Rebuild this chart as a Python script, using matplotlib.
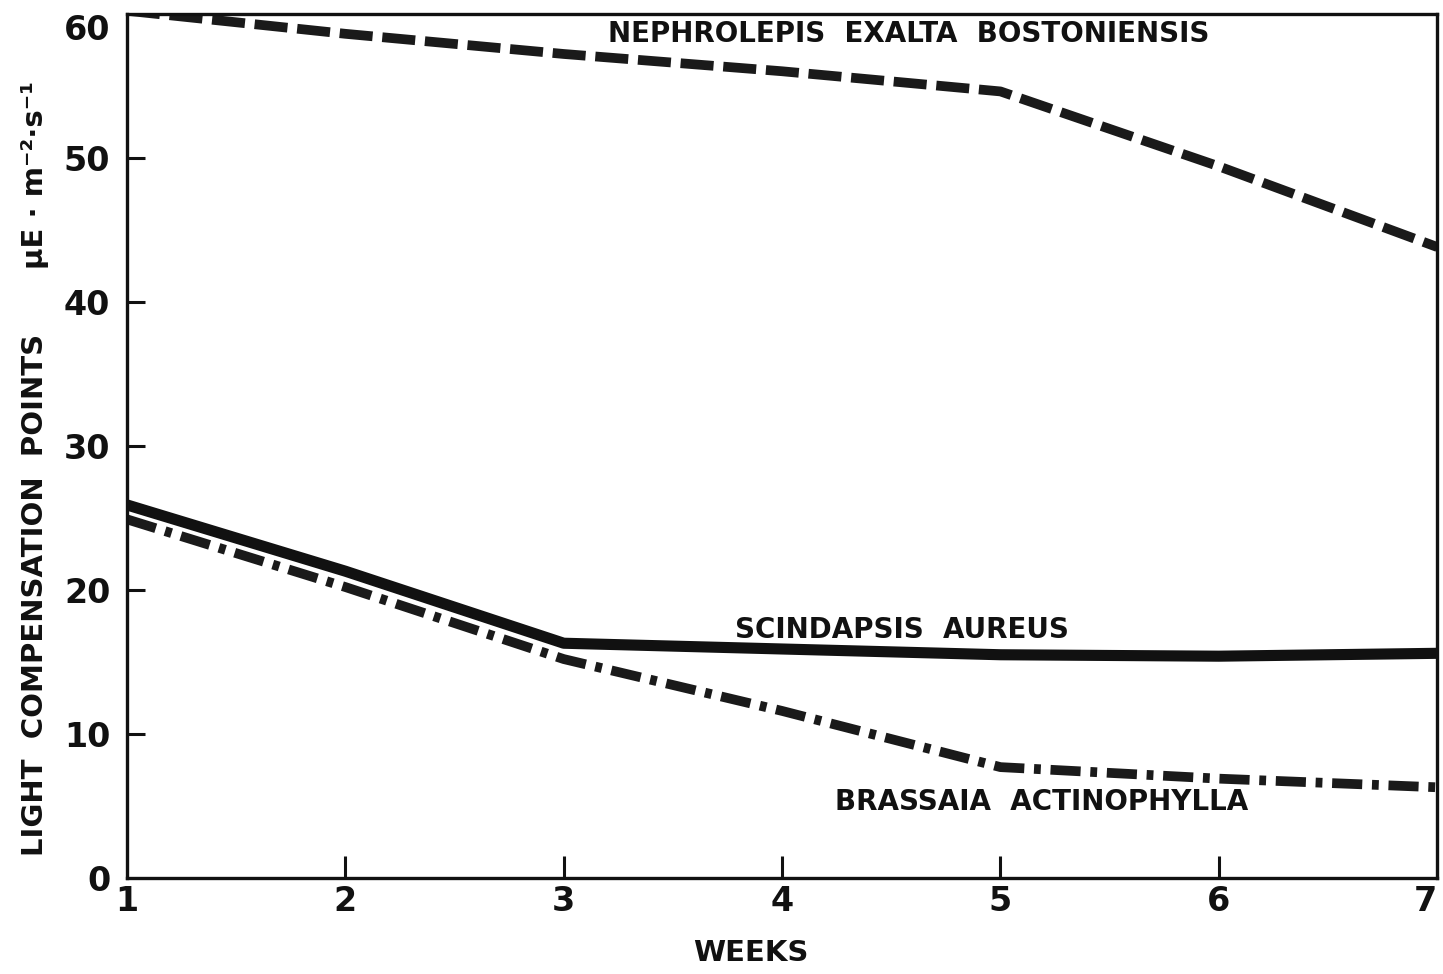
import matplotlib.pyplot as plt

weeks = [1, 2, 3, 4, 5, 6, 7]
nephrolepis = [60.2, 58.6, 57.2, 56.0, 54.6, 49.4, 43.8]
scindapsis = [25.9, 21.3, 16.3, 15.9, 15.5, 15.4, 15.6]
brassaia = [24.9, 20.2, 15.2, 11.6, 7.7, 6.9, 6.3]

x_ticks = [1, 2, 3, 4, 5, 6, 7]
y_ticks = [0, 10, 20, 30, 40, 50, 60]

ink = '#111111'
plt.rcParams['font.family'] = 'DejaVu Sans'
plt.rcParams['font.weight'] = 'bold'

fig = plt.figure(figsize=(14.43, 9.74), dpi=100)
ax = fig.add_axes([0.088, 0.0985, 0.908, 0.8875])

ax.plot(weeks, nephrolepis, color='#1a1a1a', lw=7, dashes=(3.4, 1.0),
        dash_capstyle='butt')
ax.plot(weeks, scindapsis, color=ink, lw=8, solid_joinstyle='round',
        solid_capstyle='butt')
ax.plot(weeks, brassaia, color='#1a1a1a', lw=7, dashes=(3.1, 1.0, 0.7, 1.0),
        dash_capstyle='butt')

ax.set_xlim(1, 7)
ax.set_ylim(0, 60)

for s in ax.spines.values():
    s.set_linewidth(2.4)
    s.set_color(ink)

ax.set_xticks(x_ticks)
ax.set_yticks(y_ticks)
ax.tick_params(axis='x', direction='in', length=16, width=2.2, pad=5,
               labelsize=24, colors=ink)
ax.tick_params(axis='y', direction='in', length=13, width=2.2, pad=12,
               labelsize=24, colors=ink)
# end ticks are not drawn in the original
xt = ax.xaxis.get_major_ticks()
yt = ax.yaxis.get_major_ticks()
for t in [xt[0], xt[-1], yt[0], yt[-1]]:
    t.tick1line.set_visible(False)
xt[-1].label1.set_horizontalalignment('right')
yt[-1].label1.set_verticalalignment('top')

fig.text(0.52, 0.022, 'WEEKS', fontsize=21, ha='center', va='center',
         color=ink)
fig.text(0.024, 0.389, 'LIGHT  COMPENSATION  POINTS', rotation=90,
         fontsize=21, ha='center', va='center', color=ink)
fig.text(0.024, 0.82, 'μE · m⁻²·s⁻¹', rotation=90,
         fontsize=21, ha='center', va='center', color=ink)

ax.text(4.58, 58.6, 'NEPHROLEPIS  EXALTA  BOSTONIENSIS', fontsize=20,
        ha='center', va='center', color=ink)
ax.text(4.55, 17.25, 'SCINDAPSIS  AUREUS', fontsize=20,
        ha='center', va='center', color=ink)
ax.text(5.19, 5.3, 'BRASSAIA  ACTINOPHYLLA', fontsize=20,
        ha='center', va='center', color=ink)

fig.savefig('out.png', dpi=100)
